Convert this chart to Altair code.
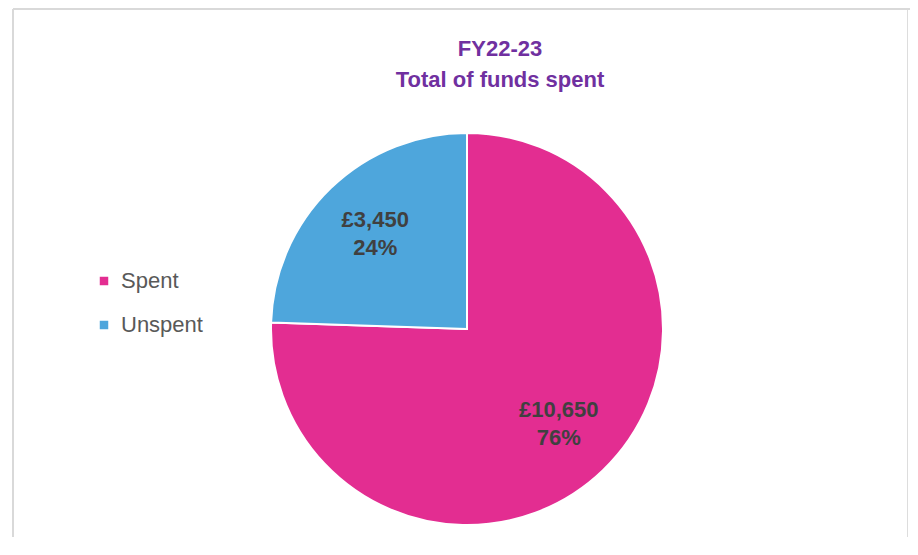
import altair as alt
import pandas as pd

categories = ["Spent", "Unspent"]
values = [10650, 3450]
amount_labels = ["£10,650", "£3,450"]
pct_labels = ["76%", "24%"]
order = [1, 2]

colors = ["#E32D91", "#4EA6DC"]

df = pd.DataFrame({
    "category": categories,
    "value": values,
    "amount": amount_labels,
    "pct": pct_labels,
    "order": order,
})

W, H = 894, 528
CX, CY, R = 454, 320, 196

base = alt.Chart(df).encode(
    theta=alt.Theta("value:Q", stack=True),
    order=alt.Order("order:Q"),
    x=alt.value(CX),
    y=alt.value(CY),
)

pie = base.mark_arc(radius=R, stroke="white", strokeWidth=2).encode(
    color=alt.Color(
        "category:N",
        scale=alt.Scale(domain=categories, range=colors),
        sort=categories,
        legend=alt.Legend(
            title=None,
            orient="none",
            legendX=80,
            legendY=261,
            symbolType="square",
            symbolSize=72,
            symbolStrokeWidth=0,
            labelFont="Liberation Sans",
            labelFontSize=22,
            labelColor="#595959",
            labelOffset=6,
            rowPadding=22,
        ),
    )
)

txt_amount = base.mark_text(
    radius=132, dy=-14, font="Liberation Sans", fontSize=22,
    fontWeight="bold", color="#404040",
).encode(text="amount:N")

txt_pct = base.mark_text(
    radius=132, dy=14, font="Liberation Sans", fontSize=22,
    fontWeight="bold", color="#404040",
).encode(text="pct:N")

border_top = alt.Chart(df).mark_rule(color="#D9D9D9", strokeWidth=2).encode(
    x=alt.value(0), x2=alt.value(W + 10), y=alt.value(0)
)
border_left = alt.Chart(df).mark_rule(color="#D9D9D9", strokeWidth=2).encode(
    x=alt.value(0), y=alt.value(0), y2=alt.value(H + 10)
)

chart = alt.layer(border_top, border_left, pie, txt_amount, txt_pct).properties(
    width=W,
    height=H,
    autosize=alt.AutoSizeParams(type="none"),
    padding={"left": 5, "top": 1, "right": 3, "bottom": 0},
    title=alt.TitleParams(
        text=["FY22-23", "Total of funds spent"],
        font="Liberation Sans Narrow, Liberation Sans",
        fontSize=22,
        fontWeight="bold",
        color="#7030A0",
        anchor="middle",
        frame="group",
        lineHeight=31,
        offset=0,
        dy=84,
        dx=40,
    ),
).configure_view(stroke=None).configure(background="white")

chart.save("out.html", embed_options={"renderer": "svg", "actions": False})
